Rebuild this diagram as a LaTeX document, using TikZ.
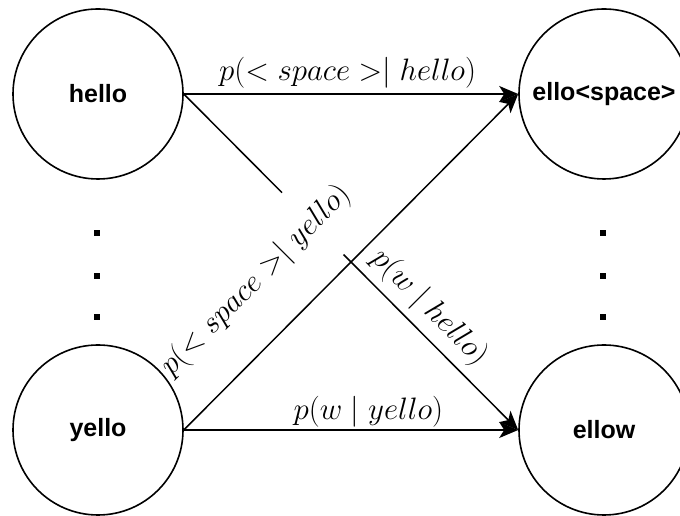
\RequirePackage{fix-cm}
\documentclass[tikz,border=0pt]{standalone}
\usepackage{fontspec}
\newfontfamily\labfont{Liberation Sans}
\usetikzlibrary{arrows.meta}
\begin{document}
\begin{tikzpicture}[x=1pt,y=1pt,
  state/.style={circle, draw, line width=1.6pt, minimum size=170pt, inner sep=0pt,
    font=\labfont\bfseries\fontsize{25}{30}\selectfont},
  edge/.style={line width=1.5pt, -{Stealth[length=19pt,width=16pt,inset=5pt]}},
  lbl/.style={font=\fontsize{31}{36}\selectfont, inner sep=2pt},
  dotmark/.style={rectangle, fill, minimum size=6pt, inner sep=0pt}]
\useasboundingbox (0,0) rectangle (680,516);
\node[state] (hello) at (98,422) {hello};
\node[state] (yello) at (98,86) {yello};
\node[state] (ello) at (604,422) {ello<space>};
\node[state] (ellow) at (604,86) {ellow};
\node[dotmark] (l1) at (97,283) {};
\node[dotmark] (l2) at (97,240) {};
\node[dotmark] (l3) at (97,199) {};
\node[dotmark] (r1) at (603,283) {};
\node[dotmark] (r2) at (603,240) {};
\node[dotmark] (r3) at (603,199) {};
\draw[edge] (hello.east) -- node[lbl, pos=0.49, above=3pt] {$p(<space>\mid hello)$} (ello.west);
\draw[edge] (hello.east) -- node[lbl, pos=0.685, sloped, above=5pt] {$p(w\mid hello)$} (ellow.west);
\draw[edge] (yello.east) -- node[lbl, pos=0.552, above=0pt] {$p(w\mid yello)$} (ellow.west);
\draw[edge] (yello.east) -- node[lbl, pos=0.33, sloped, above=10pt, fill=white, inner xsep=0pt, inner ysep=28pt] {$p(<space>\mid yello)$} (ello.west);
\end{tikzpicture}
\end{document}
